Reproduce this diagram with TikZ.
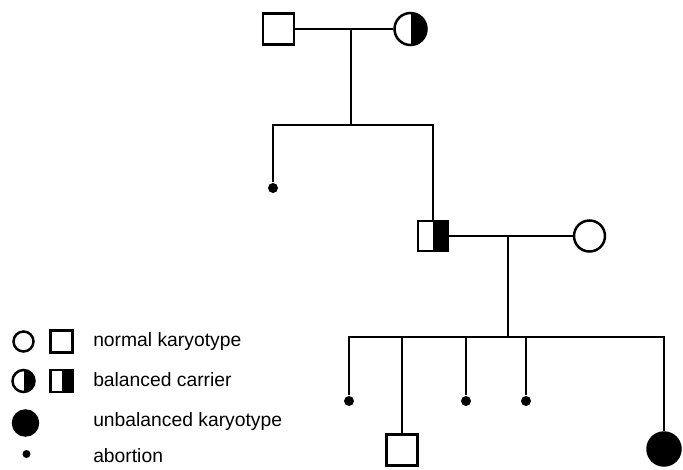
\documentclass[tikz,border=0pt]{standalone}
\usepackage{fontspec}
\setmainfont{Liberation Sans}
\tikzset{
  male/.style={draw, rectangle, fill=white, minimum size=#1, inner sep=0pt},
  female/.style={draw, circle, fill=white, minimum size=#1, inner sep=0pt},
  carrier/.style={path picture={\fill[black] (path picture bounding box.south) rectangle (path picture bounding box.north east);}},
  affected/.style={draw, circle, fill=black, minimum size=#1, inner sep=0pt},
  abortion/.style={circle, fill=black, minimum size=#1, inner sep=0pt},
  legtext/.style={anchor=west, inner sep=0pt, font=\fontsize{19.3}{22}\selectfont}
}
\begin{document}
\begin{tikzpicture}[x=1pt, y=-1pt, line width=2.5pt]
\useasboundingbox (0,0) rectangle (683,469);
% generation I
\node[male=31pt] (m1) at (278.5,29) {};
\node[female=32pt, carrier] (f1) at (410.5,29) {};
\coordinate (mid1) at (351,29);
\coordinate (sib1) at (351,125);
\draw (m1) -- (f1);
\draw (mid1) -- (sib1);
% generation II
\node[abortion=10pt] (a1) at (273,188) {};
\node[male=30pt, carrier] (m2) at (433,236) {};
\node[female=31pt] (f2) at (589.5,236) {};
\draw (a1) -- (a1 |- sib1) -- (m2 |- sib1) -- (m2);
\coordinate (mid2) at (508,236);
\coordinate (sib2) at (508,337);
\draw (m2) -- (f2);
\draw (mid2) -- (sib2);
% generation III
\node[abortion=10pt] (a2) at (349,401) {};
\node[male=31pt] (m3) at (402,450) {};
\node[abortion=10pt] (a3) at (466,401) {};
\node[abortion=10pt] (a4) at (526,401) {};
\node[affected=33pt] (d1) at (664,449) {};
\draw (a2) -- (a2 |- sib2) -- (d1 |- sib2) -- (d1);
\draw (m3) -- (m3 |- sib2);
\draw (a3) -- (a3 |- sib2);
\draw (a4) -- (a4 |- sib2);
% legend
\node[female=20pt] (lf1) at (23.5,341.5) {};
\node[male=22pt] (lm1) at (61.5,341.5) {};
\node[legtext] (t1) at (92,341.5) {normal karyotype};
\node[female=22pt, carrier] (lf2) at (23.5,381) {};
\node[male=22pt, carrier] (lm2) at (61.5,381) {};
\node[legtext] (t2) at (92,380) {balanced carrier};
\node[affected=25pt] (lf3) at (25.5,423) {};
\node[legtext] (t3) at (92,421.5) {unbalanced karyotype};
\node[abortion=8pt] (la) at (26.5,454) {};
\node[legtext] (t4) at (92,456) {abortion};
\end{tikzpicture}
\end{document}
